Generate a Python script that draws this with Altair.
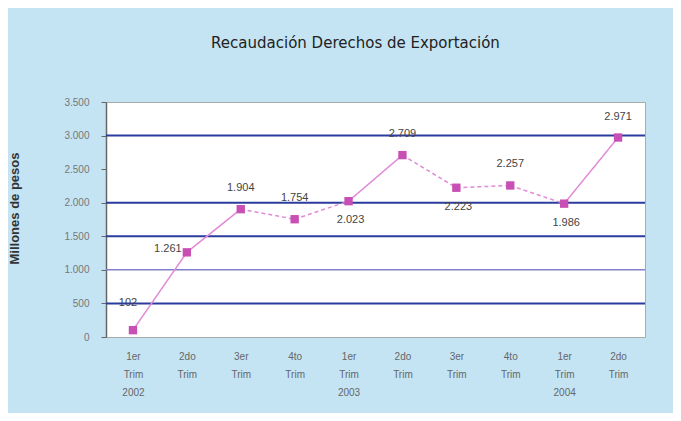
import altair as alt
import pandas as pd

quarters = ["1er", "2do", "3er", "4to", "1er", "2do", "3er", "4to", "1er", "2do"]
years = ["2002", "2002", "2002", "2002", "2003", "2003", "2003", "2003", "2004", "2004"]
values = [102, 1261, 1904, 1754, 2023, 2709, 2223, 2257, 1986, 2971]
label_pos = ["aboveleft", "left", "above", "above", "below", "above", "below", "above", "below", "above"]
segment_style = ["solid", "solid", "dashed", "dashed", "solid", "dashed", "dashed", "dashed", "solid"]
y_ticks = [0, 500, 1000, 1500, 2000, 2500, 3000, 3500]
grid_strong = [500, 1500, 2000, 3000]
grid_light = [1000]

keys = [f"{q} Trim {y}" for q, y in zip(quarters, years)]


def fmt(v):
    return f"{v:,}".replace(",", ".")


df = pd.DataFrame({"key": keys, "value": values, "label": [fmt(v) for v in values], "pos": label_pos})

seg_rows = []
for i, st in enumerate(segment_style):
    for j in (i, i + 1):
        seg_rows.append({"key": keys[j], "value": values[j], "seg": i, "style": st})
seg_df = pd.DataFrame(seg_rows)

grid_df = pd.DataFrame(
    {"value": grid_strong + grid_light, "kind": ["strong"] * len(grid_strong) + ["light"] * len(grid_light)}
)

x_enc = alt.X(
    "key:N",
    sort=keys,
    scale=alt.Scale(padding=0.5),
    axis=alt.Axis(
        title=None,
        labelAngle=0,
        labelExpr="split(datum.value, ' ')[0] == '1er' ? split(datum.value, ' ') : [split(datum.value, ' ')[0], 'Trim']",
        labelFontSize=10,
        labelColor="#666666",
        labelLineHeight=18,
        labelPadding=14,
        labelBaseline="top",
        ticks=False,
        domain=False,
    ),
)
y_scale = alt.Scale(domain=[0, 3500], nice=False, zero=True)
y_axis = alt.Axis(
    title="Millones de pesos",
    titleFont="Liberation Sans",
    titleFontSize=13,
    titleFontWeight="bold",
    titleColor="#333333",
    titlePadding=42,
    titleY=106,
    values=y_ticks,
    labelOverlap=False,
    labelExpr="replace(format(datum.value, ','), ',', '.')",
    labelFontSize=10,
    labelColor="#777777",
    labelPadding=12,
    tickSize=5,
    tickColor="#666666",
    domainColor="#666666",
    domainWidth=1.5,
    grid=False,
)
y_enc = alt.Y("value:Q", scale=y_scale, axis=y_axis)

grid = (
    alt.Chart(grid_df)
    .mark_rule()
    .encode(
        y=y_enc,
        color=alt.Color("kind:N", scale=alt.Scale(domain=["strong", "light"], range=["#2b3c9e", "#8080cc"]), legend=None),
        strokeWidth=alt.StrokeWidth("kind:N", scale=alt.Scale(domain=["strong", "light"], range=[2, 1.5]), legend=None),
    )
)

lines = (
    alt.Chart(seg_df)
    .mark_line(color="#e08ad8", strokeWidth=1.5)
    .encode(
        x=x_enc,
        y=y_enc,
        detail="seg:N",
        strokeDash=alt.StrokeDash(
            "style:N", scale=alt.Scale(domain=["solid", "dashed"], range=[[1, 0], [4, 3]]), legend=None
        ),
    )
)

points = (
    alt.Chart(df)
    .mark_point(shape="square", filled=True, size=70, color="#c850b4", opacity=1)
    .encode(x=x_enc, y=y_enc)
)


def labels(pos, dx, dy):
    return (
        alt.Chart(df)
        .transform_filter(alt.datum.pos == pos)
        .mark_text(dx=dx, dy=dy, fontSize=11, color="#444444", font="Liberation Sans")
        .encode(x=x_enc, y=y_enc, text="label:N")
    )


chart = (
    alt.layer(
        grid,
        lines,
        points,
        labels("above", 0, -21),
        labels("below", 2, 19),
        labels("left", -19, -3),
        labels("aboveleft", -5, -27),
    )
    .properties(
        width=539,
        height=235,
        padding={"left": 98, "top": 94, "right": 28, "bottom": 76},
        autosize=alt.AutoSizeParams(type="none"),
        background="#c4e4f4",
        title=alt.TitleParams(
            "Recaudación Derechos de Exportación",
            fontSize=15,
            font="DejaVu Sans",
            fontWeight="normal",
            color="#222222",
            offset=46,
            dx=-20,
        ),
    )
    .configure_view(fill="white", stroke="#aaaaaa", strokeWidth=1)
)

chart.save("out.html", embed_options={"renderer": "svg", "actions": False})
